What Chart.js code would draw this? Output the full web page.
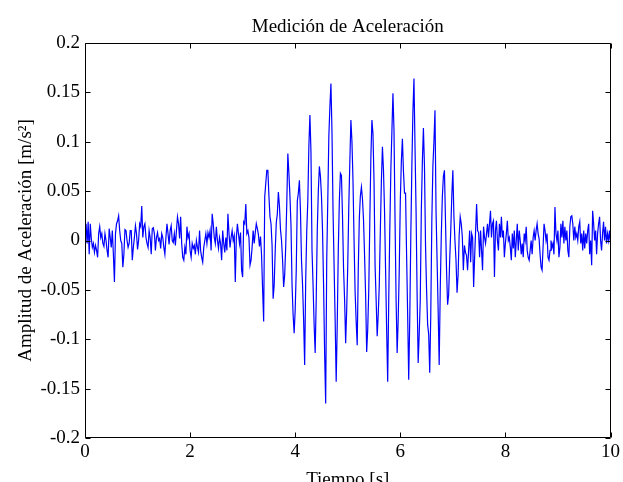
<!DOCTYPE html>
<html>
<head>
<meta charset="utf-8">
<title>Medición de Aceleración</title>
<script src="https://cdn.jsdelivr.net/npm/chart.js@4.4.1/dist/chart.umd.min.js"></script>
<style>
    html, body { margin: 0; padding: 0; background: #fff; }
    #wrap { width: 623px; height: 482px; }
</style>
</head>
<body>
<div id="wrap"><canvas id="accelChart" width="623" height="482"></canvas></div>
<script>
// Acceleration record (m/s^2), three stretches of the record
// pre-event noise, 0 s .. 3.20 s
const preStart = 0, preEnd = 3.20;
const preEvent = [
    0.007, 0.017, -0.003, 0.019, -0.014, 0.017, 0.002, -0.007, -0.003, -0.012,
    -0.005, -0.010, -0.017, 0.007, 0.014, 0.003, 0.007, -0.003, -0.006, 0.007, 0.000,
    -0.010, -0.017, 0.012, 0.003, -0.007, 0.010, -0.014, -0.042, 0.007, 0.017,
    0.020, 0.025, 0.010, 0.000, -0.003, -0.027, -0.014, 0.011, 0.010, 0.000, -0.007,
    -0.003, 0.010, 0.010, -0.020, -0.007, 0.003, 0.015, 0.007, -0.009, 0.000, 0.017,
    0.014, 0.035, 0.003, 0.014, 0.017, 0.003, -0.003, -0.007, 0.010, 0.003,
    -0.014, 0.012, 0.013, 0.007, -0.010, 0.003, 0.008, 0.000, 0.002, -0.008, 0.007,
    0.003, -0.007, -0.014, 0.003, 0.017, 0.007, -0.004, 0.010, 0.015, 0.000, -0.002,
    0.007, -0.005, 0.010, 0.024, 0.017, 0.002,
    0.024, -0.003, -0.017, -0.020, -0.007, -0.014, 0.014, 0.003, 0.007, -0.010,
    -0.017, -0.003, -0.008, -0.005, -0.014, 0.000, -0.007, -0.012, 0.010, -0.010,
    -0.017, -0.022, -0.007, 0.000, 0.007, -0.003, 0.008, 0.003, 0.010, -0.010,
    0.027, 0.017, 0.003, -0.003, 0.014, 0.000, -0.008, 0.003, -0.003, -0.020,
    0.010, -0.003, -0.012, 0.003, -0.010, 0.027, 0.007, -0.007, 0.003, 0.010,
    0.000, 0.005, -0.042, 0.003, 0.017, 0.007, -0.003, 0.008, -0.030, -0.037,
    0.019, 0.017, 0.037, 0.007, 0.010, 0.003, -0.025, -0.020, -0.007, 0.010
];

// strong motion, 3.22 s .. 7.30 s
const burstStart = 3.22, burstEnd = 7.30;
const burst = [
    -0.003, 0.008, 0.017, 0.012, 0.006, -0.006, 0.004, -0.015, -0.050, -0.082,
    0.044, 0.058, 0.071, 0.071, 0.045, 0.024, 0.017, -0.005, -0.059, -0.045,
    -0.010, 0.018, 0.027, 0.049, 0.035, 0.011, 0.000, -0.020, -0.047, -0.035,
    -0.005, 0.038, 0.088, 0.068, 0.045, 0.015, -0.045, -0.075, -0.094, -0.070,
    -0.030, 0.040, 0.048, 0.061, 0.030, -0.020, -0.045, -0.080, -0.126, -0.040,
    0.010, 0.040, 0.095, 0.127, 0.090, -0.010, -0.045, -0.085, -0.114, -0.060,
    0.010, 0.050, 0.075, 0.065, 0.045, 0.010, -0.045, -0.115, -0.165, -0.020,
    0.040, 0.105, 0.135, 0.159, 0.110, 0.030, -0.025, -0.080, -0.143, -0.085,
    -0.010, 0.040, 0.068, 0.066, 0.025, -0.028, -0.060, -0.104, -0.070, -0.025,
    0.035, 0.080, 0.122, 0.100, 0.060, 0.000, -0.052, -0.082, -0.106, -0.030,
    0.022, 0.045, 0.054, 0.042, 0.021, -0.015, -0.055, -0.113, -0.090, -0.050,
    0.020, 0.084, 0.122, 0.108, 0.060, -0.025, -0.060, -0.097, -0.075, -0.045,
    0.010, 0.060, 0.095, 0.071, 0.030, -0.030, -0.090, -0.143, -0.060, 0.010,
    0.071, 0.110, 0.149, 0.112, 0.020, -0.060, -0.114, -0.080, -0.030, 0.040,
    0.080, 0.103, 0.070, 0.048, 0.048, -0.015, -0.075, -0.141, -0.080, 0.004,
    0.075, 0.130, 0.164, 0.095, 0.030, -0.055, -0.124, -0.095, -0.060, 0.030,
    0.080, 0.114, 0.075, -0.005, -0.050, -0.085, -0.095, -0.134, -0.075, 0.020,
    0.075, 0.100, 0.132, 0.030, -0.020, -0.070, -0.126, -0.050, 0.005, 0.044,
    0.065, 0.071, 0.020, -0.030, -0.065, -0.055, -0.020, 0.010, 0.045, 0.071,
    0.025, 0.000, -0.020, -0.053, -0.035, 0.005, 0.024, 0.017, 0.004, -0.030,
    -0.005, -0.012, -0.015, -0.030, -0.010
];

// post-event noise, 7.32 s .. 10 s
const postStart = 7.32, postEnd = 10.0;
const postEvent = [
    0.010, -0.022, 0.007, 0.003, -0.047, -0.017, 0.010, 0.037, 0.010, 0.008,
    -0.017, 0.010, -0.010, -0.030, 0.014, 0.003, -0.003, 0.007, 0.017, 0.003,
    0.017, 0.030, 0.003, 0.017, 0.020, -0.037, 0.010, 0.020, 0.000, -0.010,
    0.017, 0.003, 0.024, 0.003, 0.010, -0.017, -0.003, 0.007, 0.020, 0.000,
    0.003, -0.007, -0.020, 0.007, -0.008, 0.010, -0.017, 0.000, 0.017, -0.010,
    0.010, 0.000, -0.014, -0.003, -0.017, 0.007, 0.000, 0.014, -0.010, -0.017,
    -0.020, -0.010, 0.000, -0.014, 0.003, 0.010, 0.000, 0.010, 0.017, 0.007,
    0.002, -0.014, -0.027, -0.030, -0.007, 0.017, 0.010, 0.000, 0.007, -0.017,
    -0.020, -0.010, 0.000, -0.007, -0.003, -0.014, 0.034, 0.007, 0.000, 0.010,
    -0.017, -0.007, 0.017, 0.003, 0.020, -0.003, 0.014, 0.000, 0.010, -0.010,
    -0.017, 0.014, 0.024, 0.025, 0.017, 0.000, 0.014, 0.003, 0.007, 0.000,
    0.014, 0.019, -0.003, 0.007, -0.010, 0.010, -0.008, 0.007, -0.003, 0.010,
    0.017, -0.014, 0.000, -0.025, 0.030, 0.017, 0.000, 0.010, -0.014, 0.007,
    0.017, 0.024, 0.000, -0.010, 0.007, 0.019, 0.000, 0.014, -0.003, 0.007,
    0.000, 0.010, -0.003
];

// axis ticks
const xTicks = [0, 2, 4, 6, 8, 10];
const yTicks = [-0.2, -0.15, -0.1, -0.05, 0, 0.05, 0.1, 0.15, 0.2];

const chartTitle = 'Medición de Aceleración';

// put each stretch on its time span
function toPoints(values, t0, t1) {
    const dt = (t1 - t0) / (values.length - 1);
    return values.map((v, i) => ({ x: t0 + i * dt, y: v }));
}

const points = [
    ...toPoints(preEvent, preStart, preEnd),
    ...toPoints(burst, burstStart, burstEnd),
    ...toPoints(postEvent, postStart, postEnd)
];

const serif = 'Liberation Serif, Times New Roman, serif';

// MATLAB style box with inward ticks on every side, title centred on the axes
const boxTicks = {
    id: 'boxTicks',
    afterDatasetsDraw(chart) {
        const { ctx, chartArea: a, scales: { x, y } } = chart;
        const L = Math.round(a.left) + 0.5, R = Math.round(a.right) - 0.5;
        const T = Math.round(a.top) + 0.5, B = Math.round(a.bottom) - 0.5;
        const len = 5;
        ctx.save();
        ctx.strokeStyle = '#000';
        ctx.lineWidth = 1;
        ctx.beginPath();
        ctx.rect(L, T, R - L, B - T);
        xTicks.forEach(v => {
            const px = Math.round(x.getPixelForValue(v)) + 0.5;
            ctx.moveTo(px, B); ctx.lineTo(px, B - len);
            ctx.moveTo(px, T); ctx.lineTo(px, T + len);
        });
        yTicks.forEach(v => {
            const py = Math.round(y.getPixelForValue(v)) + 0.5;
            ctx.moveTo(L, py); ctx.lineTo(L + len, py);
            ctx.moveTo(R, py); ctx.lineTo(R - len, py);
        });
        ctx.stroke();

        ctx.fillStyle = '#000';
        ctx.font = '19px ' + serif;
        ctx.textAlign = 'center';
        ctx.textBaseline = 'alphabetic';
        ctx.fillText(chartTitle, (a.left + a.right) / 2, 32);
        ctx.restore();
    }
};

const ctx = document.getElementById('accelChart').getContext('2d');
new Chart(ctx, {
    type: 'line',
    data: {
        datasets: [{
            data: points,
            borderColor: '#0000ff',
            borderWidth: 1.2,
            pointRadius: 0,
            tension: 0,
            fill: false
        }]
    },
    options: {
        responsive: false,
        animation: false,
        parsing: false,
        layout: { padding: { left: 0, right: 11, top: 43, bottom: 0 } },
        plugins: {
            legend: { display: false },
            tooltip: { enabled: false },
            title: { display: false }
        },
        scales: {
            x: {
                type: 'linear',
                min: 0,
                max: 10,
                afterBuildTicks: s => { s.ticks = xTicks.map(v => ({ value: v })); },
                afterFit: s => { s.height = 44; },
                grid: { display: false, drawTicks: false },
                border: { display: false },
                ticks: {
                    color: '#000',
                    font: { family: serif, size: 19 },
                    padding: 3,
                    autoSkip: false,
                    maxRotation: 0,
                    callback: v => String(v)
                },
                title: {
                    display: true,
                    text: 'Tiempo [s]',
                    color: '#000',
                    font: { family: serif, size: 19, lineHeight: 1.2 },
                    padding: { top: 0, bottom: -9 }
                }
            },
            y: {
                type: 'linear',
                min: -0.2,
                max: 0.2,
                afterBuildTicks: s => { s.ticks = yTicks.map(v => ({ value: v })); },
                afterFit: s => { s.width = 85; },
                grid: { display: false, drawTicks: false },
                border: { display: false },
                ticks: {
                    color: '#000',
                    font: { family: serif, size: 19 },
                    padding: 5,
                    autoSkip: false,
                    callback: v => String(v)
                },
                title: {
                    display: true,
                    text: 'Amplitud de Aceleración [m/s²]',
                    color: '#000',
                    font: { family: serif, size: 19, lineHeight: 1.2 },
                    padding: { top: 15, bottom: 0 }
                }
            }
        }
    },
    plugins: [boxTicks]
});
</script>
</body>
</html>
